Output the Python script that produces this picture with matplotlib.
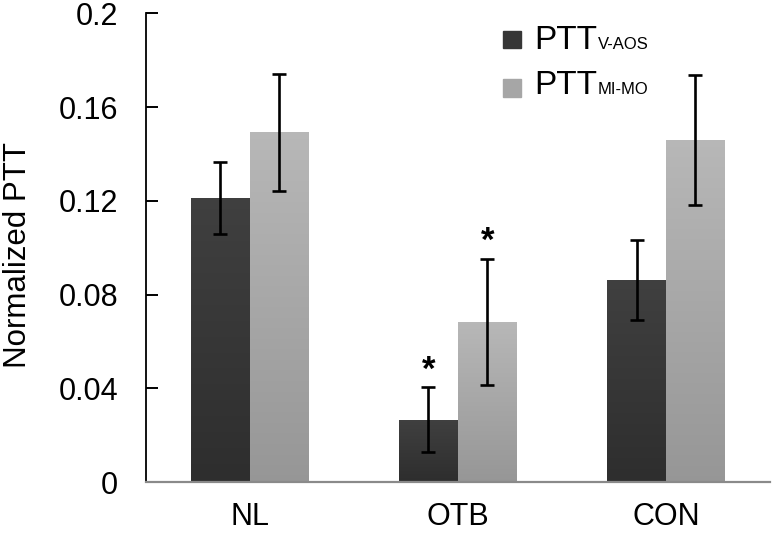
import numpy as np
import matplotlib.pyplot as plt
from matplotlib.patches import Rectangle

plt.rcParams['font.family'] = ['Liberation Sans', 'DejaVu Sans']

groups = ['NL', 'OTB', 'CON']
ptt_vaos = [0.1212, 0.0266, 0.0861]
ptt_vaos_err = [0.0154, 0.0140, 0.0170]
ptt_mimo = [0.1493, 0.0683, 0.1458]
ptt_mimo_err = [0.0250, 0.0270, 0.0278]
# groups with a significant difference (asterisk over both bars)
signif = [False, True, False]

W, H = 772, 533
fig = plt.figure(figsize=(W / 100, H / 100), dpi=100)
ax = fig.add_axes([145.7 / W, 1 - 482 / H, (770 - 145.7) / W, (482 - 13.3) / H])

x = np.arange(len(groups))
w = 0.283

b1 = ax.bar(x - w / 2, ptt_vaos, w, color='#363636', zorder=2)
b2 = ax.bar(x + w / 2, ptt_mimo, w, color='#a6a6a6', zorder=2)


def shade(bars, top, bottom):
    # vertical gradient clipped to each bar
    grad = np.linspace(0, 1, 256).reshape(-1, 1)
    c0 = np.array(top)[None, None, :]
    c1 = np.array(bottom)[None, None, :]
    img = c0 + (c1 - c0) * grad[:, :, None]
    for b in bars:
        x0, y0 = b.get_x(), b.get_y()
        im = ax.imshow(img, extent=[x0, x0 + b.get_width(), y0, y0 + b.get_height()],
                       origin='upper', aspect='auto', zorder=2.5)
        im.set_clip_path(b)


shade(b1, (0.25, 0.25, 0.25), (0.18, 0.18, 0.18))
shade(b2, (0.72, 0.72, 0.72), (0.59, 0.59, 0.59))

ekw = dict(fmt='none', ecolor='black', elinewidth=1.9, capsize=5, capthick=1.9, zorder=4)
ax.errorbar(x - w / 2, ptt_vaos, yerr=ptt_vaos_err, **ekw)
ax.errorbar(x + w / 2, ptt_mimo, yerr=ptt_mimo_err, **ekw)

for i, s in enumerate(signif):
    if s:
        ax.text(x[i] - w / 2, ptt_vaos[i] + ptt_vaos_err[i] + 0.0072, '*', ha='center', va='center',
                fontsize=25, fontweight='bold')
        ax.text(x[i] + w / 2, ptt_mimo[i] + ptt_mimo_err[i] + 0.0072, '*', ha='center', va='center',
                fontsize=25, fontweight='bold')

ax.set_xlim(-0.5, 2.5)
ax.set_ylim(0, 0.2)
ax.set_yticks([0, 0.04, 0.08, 0.12, 0.16, 0.2])
ax.set_yticklabels(['0', '0.04', '0.08', '0.12', '0.16', '0.2'])
ax.set_xticks(x)
ax.set_xticklabels(groups)
ax.tick_params(axis='y', direction='in', length=8.5, width=1.4, pad=20, labelsize=22)
ax.tick_params(axis='x', length=0, pad=14.5, labelsize=22)
ax.spines['top'].set_visible(False)
ax.spines['right'].set_visible(False)
ax.spines['left'].set_linewidth(1.3)
ax.spines['bottom'].set_color('#8a8a8a')
ax.spines['bottom'].set_linewidth(1.6)
ax.set_ylabel('Normalized PTT', fontsize=22.5)
ax.yaxis.set_label_coords(-0.1805, 0.485)

# legend drawn by hand: big "PTT" with small suffix on same baseline
legend = [('#363636', 'V-AOS', 30.7, 49), ('#a6a6a6', 'MI-MO', 79, 94)]
for col, sub, sq_top, base in legend:
    fig.patches.append(Rectangle((503 / W, 1 - (sq_top + 17.5) / H), 18 / W, 17.5 / H,
                                 transform=fig.transFigure, color=col))
    fig.text(534 / W, 1 - base / H, 'PTT', fontsize=24, va='baseline', ha='left')
    fig.text(598 / W, 1 - base / H, sub, fontsize=12, va='baseline', ha='left')

fig.savefig('out.png', dpi=100)
